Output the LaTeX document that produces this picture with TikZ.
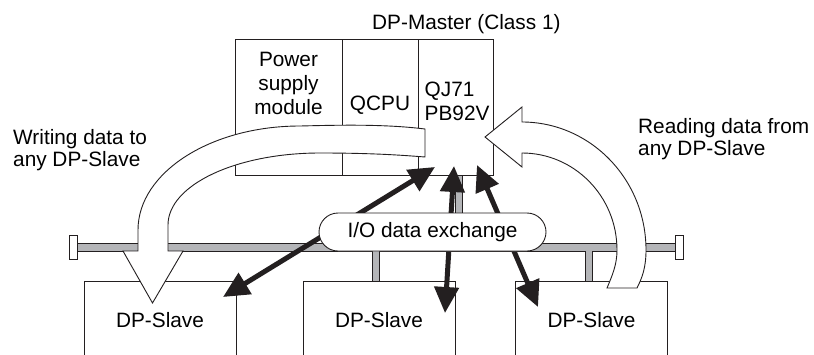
\documentclass[tikz,border=0pt]{standalone}
\usepackage{fontspec}
\setmainfont{Liberation Sans}
\usepackage{tikz}
\usetikzlibrary{arrows.meta,positioning}
\definecolor{inkx}{HTML}{231F20}
\definecolor{busgray}{HTML}{B4B5B8}
\tikzset{
  txt/.style={inner sep=0pt,align=center,font=\fontsize{20.8}{24}\selectfont},
  side/.style={txt,align=left,anchor=north west,font=\fontsize{20.8}{22}\selectfont},
  cell/.style={draw=inkx,line width=0.9pt,minimum height=136pt,inner sep=0pt,outer sep=0pt},
  slave/.style={draw=inkx,line width=0.9pt,minimum width=152pt,minimum height=79pt,inner sep=0pt,font=\fontsize{20.8}{24}\selectfont},
  pill/.style={draw=inkx,line width=0.9pt,fill=white,rounded corners=19pt,minimum width=227pt,minimum height=38pt,inner sep=0pt,font=\fontsize{20.8}{24}\selectfont},
  bus/.style={draw=inkx,line width=0.8pt,fill=busgray},
  endplug/.style={draw=inkx,line width=0.8pt,fill=white},
  xch/.style={{Triangle[length=26pt,width=24pt]}-{Triangle[length=26pt,width=24pt]},line width=5pt,inkx},
  bigar/.style={draw=inkx,line width=0.9pt,fill=white,line join=miter}
}

\begin{document}
\begin{tikzpicture}[x=1pt,y=-1pt]
\path[use as bounding box,clip] (0,0) rectangle (814,354);
% bus line with drops
\draw[bus] (77,243) -- (455,243) -- (455,175) -- (462,175) -- (462,243) -- (675,243) -- (675,251)
  -- (592,251) -- (592,281) -- (585,281) -- (585,251) -- (379,251) -- (379,281) -- (372,281)
  -- (372,251) -- (77,251) -- cycle;
\draw[endplug] (69,235) rectangle (77,259);
\draw[endplug] (675,235) rectangle (683,259);
% slaves
\node[slave] (sl1) at (160,320.5) {DP-Slave};
\node[slave] (sl2) at (379,320.5) {DP-Slave};
\node[slave] (sl3) at (591.5,320.5) {DP-Slave};
% master rack
\node[cell,minimum width=107pt] (ps) at (288.5,107) {};
\node[cell,minimum width=76pt,right=0pt of ps] (cpu) {};
\node[cell,minimum width=75pt,right=0pt of cpu] (pb) {};
\node[txt,below=13pt of ps.north] (pstxt) {Power\\supply\\module};
\node[txt,above=60pt of cpu.south] (cputxt) {QCPU};
\node[txt,align=left,anchor=north west] (pbtxt) at (424.5,82) {QJ71\\PB92V};
\node[txt,anchor=base west] (mtitle) at (372,29) {DP-Master (Class 1)};
\node[side] (wlbl) at (13,129) {Writing data to\\any DP-Slave};
\node[side] (rlbl) at (638,118) {Reading data from\\any DP-Slave};
% data exchange
\coordinate (m1) at (435,167);
\coordinate (m2) at (454,166);
\coordinate (m3) at (477,165);
\coordinate (s1) at (223,297);
\coordinate (s2) at (445,313);
\coordinate (s3) at (538,307);
\draw[xch] (s1) -- (m1);
\draw[xch] (s2) -- (m2);
\draw[xch] (s3) -- (m3);
\node[pill] (io) at (432.5,232) {I/O data exchange};
% writing
\draw[bigar] (425,129) .. controls (385,124) and (340,125) .. (300,126)
  .. controls (210.6,126) and (138,172.6) .. (138,230) -- (138,251) -- (123,251) -- (152.5,303)
  -- (183,251) -- (168,251) -- (168,225) .. controls (168,185) and (236,153) .. (320,153)
  .. controls (370,153) and (400,155) .. (425,157) -- cycle;
% reading
\draw[bigar] (485,137) -- (522,107) -- (522,122) .. controls (590,122) and (646,179) .. (646,250)
  .. controls (646,268) and (642,278) .. (637,288) -- (607,288)
  .. controls (612,276) and (617,265) .. (617,250) .. controls (617,196) and (574,153) .. (522,153)
  -- (522,167) -- cycle;
\end{tikzpicture}
\end{document}
